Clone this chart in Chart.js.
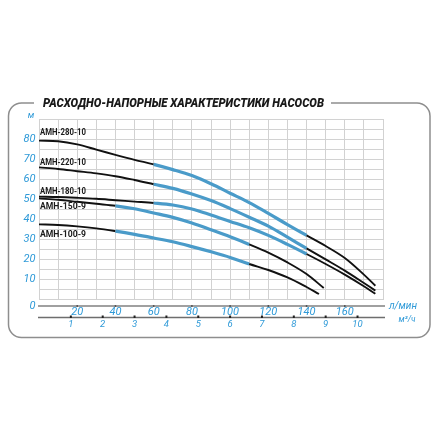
<!DOCTYPE html>
<html>
<head>
<meta charset="utf-8">
<script src="https://cdn.jsdelivr.net/npm/chart.js@4.4.1/dist/chart.umd.min.js"></script>
<style>
  html, body { margin: 0; padding: 0; background: #fff; }
  #wrap { width: 440px; height: 440px; }
</style>
</head>
<body>
<div id="wrap"><canvas id="pumpChart" width="440" height="440"></canvas></div>
<script>
// Data: flow in л/мин, head in м
const pumpNames = ['АМН-280-10', 'АМН-220-10', 'АМН-180-10', 'АМН-150-9', 'АМН-100-9'];

const flow280 = [0, 10, 20, 30, 40, 50, 60, 70, 80, 90, 100, 110, 120, 130, 140, 150, 160, 170, 176];
const head280 = [79.2, 78.9, 77.3, 74.7, 72.1, 69.6, 67.3, 64.7, 61.7, 57.6, 52.9, 48.2, 42.8, 37.2, 31.8, 26.5, 20.5, 12.2, 6.6];

const flow220 = [0, 10, 20, 30, 40, 50, 60, 70, 80, 90, 100, 110, 120, 130, 140, 150, 160, 170, 176];
const head220 = [65.8, 65, 63.9, 62.8, 61.4, 59.5, 57.4, 55.3, 52.5, 49.2, 45.2, 40.9, 36.4, 30.9, 25.3, 19.8, 14.2, 8, 4.2];

const flow180 = [0, 10, 20, 30, 40, 50, 60, 70, 80, 90, 100, 110, 120, 130, 140, 150, 160, 170, 176];
const head180 = [51.2, 51, 50.6, 50.1, 49.4, 48.7, 48, 47, 45, 42, 38.8, 35.6, 31.8, 27.3, 22.5, 17.5, 12.2, 6.4, 2.6];

const flow150 = [0, 10, 20, 30, 40, 50, 60, 70, 80, 90, 100, 110, 120, 130, 140, 149];
const head150 = [50.3, 49.6, 48.6, 47.6, 46.6, 45.1, 43, 40.8, 38, 34.6, 31.1, 27.3, 23.2, 18.3, 12.5, 5.5];

const flow100 = [0, 10, 20, 30, 40, 50, 60, 70, 80, 90, 100, 110, 120, 130, 140, 146.5];
const head100 = [37.3, 37, 36.3, 35.3, 33.9, 32.3, 30.5, 28.6, 26.2, 23.6, 20.8, 17.5, 14.5, 10.8, 6, 2.5];

// working range (blue part) of each curve, л/мин
const workFrom = [60, 60, 60, 40, 40];
const workTo = [140, 140, 140, 110, 110];

// tick labels
const headTicks = [10, 20, 30, 40, 50, 60, 70, 80];
const flowTicks = [20, 40, 60, 80, 100, 120, 140, 160];
const cubicTicks = [1, 2, 3, 4, 5, 6, 7, 8, 9, 10];

const BLUE = '#4a9bc9';
const TEXT_BLUE = '#2f9ad8';
const BLACK = '#111';

const flows = [flow280, flow220, flow180, flow150, flow100];
const heads = [head280, head220, head180, head150, head100];

const inWork = (ctx, i) => ctx.p0.parsed.x >= workFrom[i] && ctx.p1.parsed.x <= workTo[i];

const datasets = pumpNames.map((name, i) => ({
    label: name,
    data: flows[i].map((q, j) => ({ x: q, y: heads[i][j] })),
    borderColor: BLACK,
    borderWidth: 2,
    pointRadius: 0,
    tension: 0.35,
    segment: {
        borderColor: ctx => inWork(ctx, i) ? BLUE : BLACK,
        borderWidth: ctx => inWork(ctx, i) ? 3.2 : 1.9
    }
}));

// frame, title, axis texts and curve names
const decorPlugin = {
    id: 'decor',
    beforeDraw(chart) {
        const c = chart.ctx;
        c.save();
        c.fillStyle = '#fff';
        c.fillRect(0, 0, chart.width, chart.height);
        // rounded frame with a gap for the title
        const l = 8.5, t = 103, r = 430, b = 337.5, rad = 13;
        c.strokeStyle = '#8e8e8e';
        c.lineWidth = 1.5;
        c.beginPath();
        c.moveTo(34, t);
        c.lineTo(l + rad, t);
        c.arcTo(l, t, l, t + rad, rad);
        c.lineTo(l, b - rad);
        c.arcTo(l, b, l + rad, b, rad);
        c.lineTo(r - rad, b);
        c.arcTo(r, b, r, b - rad, rad);
        c.lineTo(r, t + rad);
        c.arcTo(r, t, r - rad, t, rad);
        c.lineTo(331, t);
        c.stroke();
        c.restore();
    },
    afterDraw(chart) {
        const c = chart.ctx;
        const xs = chart.scales.x, ys = chart.scales.y;
        c.save();

        // title
        c.fillStyle = '#1a1a1a';
        c.font = 'italic 900 12px Roboto';
        c.textAlign = 'left';
        c.textBaseline = 'middle';
        c.fillText('РАСХОДНО-НАПОРНЫЕ ХАРАКТЕРИСТИКИ НАСОСОВ', 43, 104, 281);

        // head axis
        c.fillStyle = TEXT_BLUE;
        c.font = 'italic 11px Roboto';
        c.textAlign = 'right';
        headTicks.forEach(v => c.fillText(String(v), 35.5, ys.getPixelForValue(v)));
        c.fillText('0', 35.5, 306);
        c.font = 'italic 9px Roboto';
        c.textAlign = 'center';
        c.fillText('м', 31, 116);

        // flow axes
        const x0 = 38, x1 = 385;
        c.strokeStyle = '#a0a0a0';
        c.lineWidth = 2;
        c.beginPath(); c.moveTo(x0, 306); c.lineTo(x1, 306); c.stroke();
        c.strokeStyle = '#6e6e6e';
        c.lineWidth = 1.5;
        c.beginPath(); c.moveTo(x0, 317.5); c.lineTo(x1, 317.5); c.stroke();

        c.fillStyle = '#555';
        flowTicks.forEach(v => c.fillRect(xs.getPixelForValue(v) - 0.75, 305, 1.5, 2));
        c.fillStyle = '#222';
        cubicTicks.forEach(v => c.fillRect(xs.getPixelForValue(v * 1000 / 60) - 1, 315.5, 2, 2.5));

        c.fillStyle = TEXT_BLUE;
        c.font = 'italic 11px Roboto';
        c.textAlign = 'center';
        flowTicks.forEach(v => c.fillText(String(v), xs.getPixelForValue(v), 312));
        c.font = 'italic 9.5px Roboto';
        cubicTicks.forEach(v => c.fillText(String(v), xs.getPixelForValue(v * 1000 / 60), 324.5));
        c.font = 'italic 10px Roboto';
        c.fillText('л/мин', 403, 306);
        c.font = 'italic 8.5px Roboto';
        c.fillText('м³/ч', 407, 320);

        // curve names
        const nameDy = [-7.5, -4.5, -5, 8, 10];
        c.fillStyle = '#1a1a1a';
        c.font = 'bold 9px Roboto';
        c.textAlign = 'left';
        pumpNames.forEach((n, i) => {
            c.fillText(n, 40, ys.getPixelForValue(heads[i][0]) + nameDy[i], 46);
        });
        c.restore();
    }
};

new Chart(document.getElementById('pumpChart'), {
    type: 'line',
    data: { datasets },
    options: {
        responsive: false,
        animation: false,
        layout: { padding: { left: 39, top: 119, right: 57, bottom: 141 } },
        plugins: { legend: { display: false }, tooltip: { enabled: false } },
        scales: {
            x: {
                type: 'linear', min: 0, max: 180,
                ticks: { display: false, stepSize: 10 },
                grid: { color: '#d2d2d2', lineWidth: 1, drawTicks: false },
                border: { display: true, color: '#d2d2d2' },
                afterFit: s => { s.height = 0; }
            },
            y: {
                min: 0, max: 90,
                ticks: { display: false, stepSize: 5 },
                grid: { color: '#d2d2d2', lineWidth: 1, drawTicks: false },
                border: { display: true, color: '#d2d2d2' },
                afterFit: s => { s.width = 0; }
            }
        }
    },
    plugins: [decorPlugin]
});
</script>
</body>
</html>
